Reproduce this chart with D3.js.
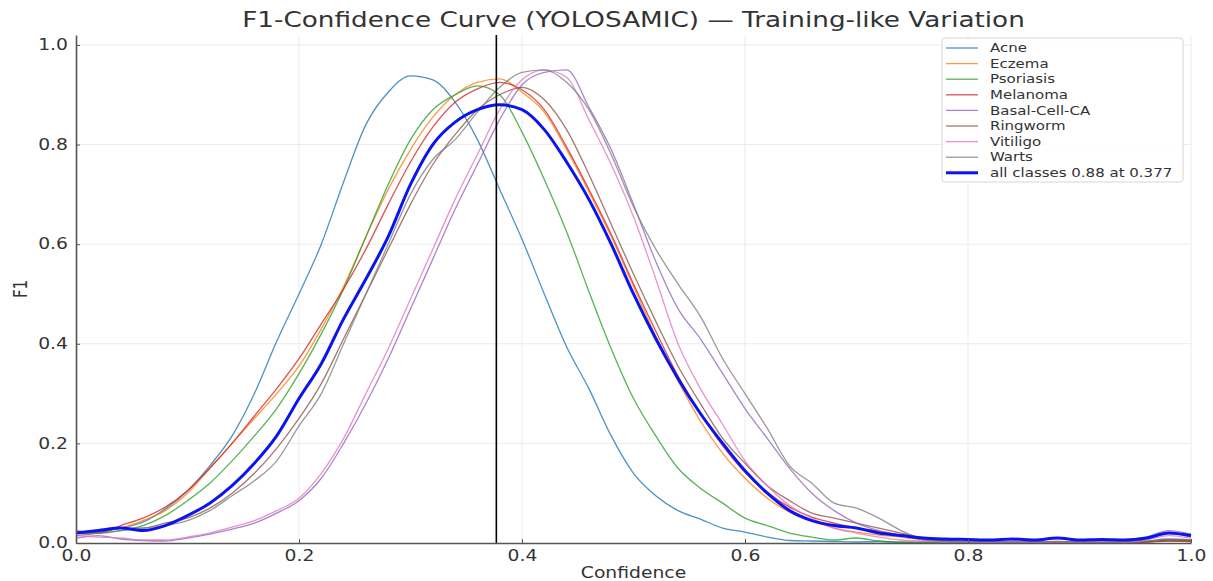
<!DOCTYPE html>
<html>
<head>
<meta charset="utf-8">
<script src="https://cdn.jsdelivr.net/npm/d3@7"></script>
<style>
  html, body { margin: 0; padding: 0; background: #fff; }
  svg text { font-family: "DejaVu Sans", sans-serif; fill: #333; }
</style>
</head>
<body>
<div id="chart"></div>
<script>
  'use strict';

  // confidence thresholds (x)
  var conf = [0.00, 0.02, 0.04, 0.06, 0.08, 0.10, 0.12, 0.14, 0.16, 0.18,
    0.20, 0.22, 0.24, 0.26, 0.28, 0.30, 0.32, 0.34, 0.36, 0.38,
    0.40, 0.42, 0.44, 0.46, 0.48, 0.50, 0.52, 0.54, 0.56, 0.58,
    0.60, 0.62, 0.64, 0.66, 0.68, 0.70, 0.72, 0.74, 0.76, 0.78,
    0.80, 0.82, 0.84, 0.86, 0.88, 0.90, 0.92, 0.94, 0.96, 0.98, 1.00];

  var acne = [.020, .022, .030, .042, .068, .105, .155, .215, .300, .405,
    .500, .600, .725, .840, .905, .938, .930, .885, .810, .710,
    .610, .500, .394, .310, .215, .140, .095, .065, .048, .030,
    .022, .012, .005, .004, .003, .002, .003, .001, .002, .001,
    .002, .001, .002, .003, .001, .002, .001, .002, .004, .008, .006];

  var eczema = [.020, .025, .030, .045, .065, .100, .150, .200, .250, .300,
    .355, .430, .515, .615, .710, .790, .855, .900, .925, .932,
    .905, .865, .790, .705, .615, .515, .415, .325, .245, .180,
    .130, .090, .062, .045, .030, .022, .016, .012, .006, .003,
    .002, .001, .002, .001, .003, .002, .001, .002, .003, .005, .004];

  var psoriasis = [.020, .020, .025, .035, .055, .085, .120, .165, .215, .270,
    .340, .420, .510, .615, .720, .810, .870, .900, .918, .900,
    .825, .730, .625, .505, .390, .290, .215, .150, .110, .080,
    .050, .035, .020, .012, .006, .010, .004, .002, .001, .002,
    .001, .002, .001, .001, .002, .001, .002, .001, .003, .004, .003];

  var melanoma = [.025, .020, .035, .050, .072, .105, .150, .200, .255, .310,
    .370, .440, .510, .590, .680, .765, .835, .885, .912, .925,
    .910, .870, .795, .710, .620, .520, .425, .335, .260, .195,
    .142, .102, .072, .052, .040, .030, .024, .016, .007, .003,
    .002, .002, .001, .002, .001, .003, .001, .002, .002, .006, .005];

  var basalCell = [.010, .015, .008, .005, .004, .010, .018, .028, .040, .060,
    .085, .130, .200, .280, .370, .470, .570, .670, .760, .850,
    .920, .945, .950, .875, .790, .680, .565, .470, .410, .340,
    .270, .210, .150, .100, .065, .040, .025, .015, .008, .004,
    .003, .002, .004, .002, .001, .003, .002, .004, .012, .025, .018];

  var ringworm = [.015, .020, .030, .030, .040, .050, .070, .100, .140, .190,
    .250, .320, .410, .500, .590, .680, .760, .820, .870, .900,
    .915, .890, .830, .740, .640, .540, .445, .355, .280, .210,
    .160, .115, .085, .060, .050, .040, .030, .020, .010, .005,
    .003, .002, .001, .002, .003, .001, .002, .001, .002, .004, .003];

  var vitiligo = [.015, .012, .010, .006, .006, .012, .020, .032, .045, .065,
    .090, .140, .210, .300, .390, .490, .590, .690, .780, .870,
    .930, .950, .935, .850, .760, .655, .530, .400, .310, .238,
    .165, .115, .075, .050, .030, .020, .012, .006, .004, .002,
    .002, .001, .002, .001, .002, .001, .003, .002, .006, .015, .010];

  var warts = [.020, .020, .025, .030, .035, .045, .065, .095, .125, .165,
    .235, .300, .400, .500, .600, .700, .770, .810, .865, .915,
    .945, .950, .925, .870, .780, .675, .590, .520, .455, .370,
    .300, .230, .155, .120, .080, .070, .050, .025, .008, .003,
    .002, .003, .001, .002, .001, .002, .001, .003, .008, .020, .012];

  var allClasses = [.020, .025, .030, .025, .035, .055, .080, .115, .160, .215,
    .290, .360, .450, .530, .615, .720, .800, .845, .870, .880,
    .870, .830, .765, .690, .600, .500, .410, .330, .260, .200,
    .145, .100, .065, .045, .035, .030, .020, .015, .010, .008,
    .007, .006, .008, .006, .010, .006, .007, .006, .010, .020, .015];

  var classNames = ["Acne", "Eczema", "Psoriasis", "Melanoma", "Basal-Cell-CA", "Ringworm", "Vitiligo", "Warts"];
  var classValues = [acne, eczema, psoriasis, melanoma, basalCell, ringworm, vitiligo, warts];
  var bestF1 = 0.88;
  var bestConf = 0.377;

  var xTicks = [0, 0.2, 0.4, 0.6, 0.8, 1.0];
  var yTicks = [0, 0.2, 0.4, 0.6, 0.8, 1.0];

  var width = 1213;
  var height = 581;
  var plotLeft = 76;
  var plotRight = 1191;
  var plotTop = 35;
  var plotBottom = 543;
  var stretch = 1.25;   // the reference text is wider than it is tall

  var svg = d3.select("#chart").append("svg")
    .attr("width", width)
    .attr("height", height);

  var x = d3.scaleLinear().domain([0, 1]).range([plotLeft, plotRight]);
  var y = d3.scaleLinear().domain([0, 1.02]).range([plotBottom, plotTop]);

  // grid
  var grid = svg.append("g").attr("class", "grid");
  grid.selectAll("line.vgrid")
    .data(xTicks.slice(1))
    .enter().append("line")
    .attr("x1", function (d) { return x(d); })
    .attr("x2", function (d) { return x(d); })
    .attr("y1", plotTop)
    .attr("y2", plotBottom)
    .attr("stroke", "#ebebeb")
    .attr("stroke-width", 1);
  grid.selectAll("line.hgrid")
    .data(yTicks.slice(1))
    .enter().append("line")
    .attr("x1", plotLeft)
    .attr("x2", plotRight)
    .attr("y1", function (d) { return y(d); })
    .attr("y2", function (d) { return y(d); })
    .attr("stroke", "#ebebeb")
    .attr("stroke-width", 1);

  // curves
  var line = d3.line()
    .x(function (d, i) { return x(conf[i]); })
    .y(function (d) { return y(d); })
    .curve(d3.curveMonotoneX);

  svg.append("g").selectAll("path.classCurve")
    .data(classValues)
    .enter().append("path")
    .attr("class", "classCurve")
    .attr("d", line)
    .attr("fill", "none")
    .attr("stroke", function (d, i) { return d3.schemeCategory10[i]; })
    .attr("stroke-opacity", 0.8)
    .attr("stroke-width", 1.3)
    .attr("stroke-linejoin", "round");

  svg.append("path")
    .datum(allClasses)
    .attr("d", line)
    .attr("fill", "none")
    .attr("stroke", "#0a14f0")
    .attr("stroke-width", 3)
    .attr("stroke-linejoin", "round");

  // best threshold marker
  svg.append("line")
    .attr("x1", x(bestConf))
    .attr("x2", x(bestConf))
    .attr("y1", plotTop)
    .attr("y2", plotBottom)
    .attr("stroke", "#000")
    .attr("stroke-width", 1.6);

  // axes
  var xAxis = d3.axisBottom(x)
    .tickValues(xTicks)
    .tickFormat(d3.format(".1f"))
    .tickSizeInner(-4)
    .tickSizeOuter(0)
    .tickPadding(7);
  var yAxis = d3.axisLeft(y)
    .tickValues(yTicks)
    .tickFormat(d3.format(".1f"))
    .tickSizeInner(-4)
    .tickSizeOuter(0)
    .tickPadding(6.4);

  var gx = svg.append("g")
    .attr("transform", "translate(0," + plotBottom + ")")
    .call(xAxis);
  var gy = svg.append("g")
    .attr("transform", "translate(" + plotLeft + ",0)")
    .call(yAxis);

  [gx, gy].forEach(function (g) {
    g.select(".domain").attr("stroke", "#555").attr("stroke-width", 1.6);
    g.selectAll(".tick line").attr("stroke", "#555").attr("stroke-width", 1);
    g.selectAll(".tick text")
      .attr("fill", "#333")
      .style("font-size", "15px")
      .attr("transform", "scale(" + stretch + ",1)");
  });

  // title and labels
  function stretchedText(tx, ty, str, size, anchor) {
    return svg.append("text")
      .attr("transform", "translate(" + tx + "," + ty + ") scale(" + stretch + ",1)")
      .attr("text-anchor", anchor || "middle")
      .style("font-size", size + "px")
      .text(str);
  }

  stretchedText((plotLeft + plotRight) / 2, 27, "F1-Confidence Curve (YOLOSAMIC) \u2014 Training-like Variation", 21);
  stretchedText((plotLeft + plotRight) / 2, 578, "Confidence", 15);

  svg.append("text")
    .attr("transform", "translate(27," + ((plotTop + plotBottom) / 2) + ") rotate(-90) scale(1," + stretch + ")")
    .attr("text-anchor", "middle")
    .style("font-size", "15px")
    .text("F1");

  // legend
  var legendLeft = 942;
  var legendTop = 38;
  var rowHeight = 15.6;
  var legendItems = classNames.map(function (n, i) {
    return { name: n, color: d3.schemeCategory10[i], width: 1.3, opacity: 0.8 };
  });
  legendItems.push({
    name: "all classes " + bestF1.toFixed(2) + " at " + bestConf.toFixed(3),
    color: "#0a14f0", width: 3, opacity: 1
  });

  var legend = svg.append("g").attr("class", "legend");
  legend.append("rect")
    .attr("x", legendLeft)
    .attr("y", legendTop)
    .attr("width", 241)
    .attr("height", 144)
    .attr("rx", 3)
    .attr("fill", "#fff")
    .attr("fill-opacity", 0.85)
    .attr("stroke", "#d6d6d6");

  var row = legend.selectAll("g.row")
    .data(legendItems)
    .enter().append("g")
    .attr("class", "row")
    .attr("transform", function (d, i) {
      return "translate(0," + (legendTop + 10 + i * rowHeight) + ")";
    });
  row.append("line")
    .attr("x1", legendLeft + 4)
    .attr("x2", legendLeft + 36)
    .attr("stroke", function (d) { return d.color; })
    .attr("stroke-width", function (d) { return d.width; })
    .attr("stroke-opacity", function (d) { return d.opacity; });
  row.append("text")
    .attr("transform", "translate(" + (legendLeft + 48) + ",0) scale(" + stretch + ",1)")
    .attr("dy", "0.35em")
    .style("font-size", "12px")
    .text(function (d) { return d.name; });
</script>
</body>
</html>
